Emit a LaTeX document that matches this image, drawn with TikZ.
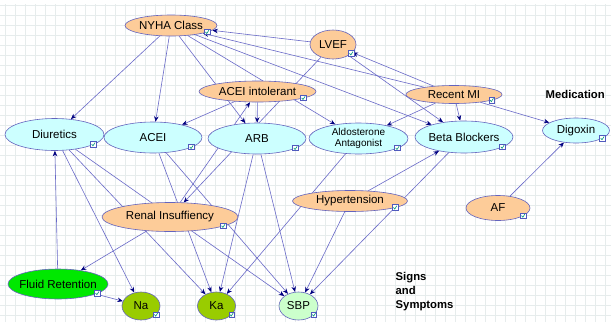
\documentclass[tikz,border=0pt]{standalone}
\usepackage{fontspec}
\setmainfont{Liberation Sans}
\usetikzlibrary{shapes.geometric,arrows.meta,calc}
\pgfdeclarelayer{gridlayer}
\pgfdeclarelayer{edgelayer}
\pgfsetlayers{gridlayer,edgelayer,main}
\definecolor{orangefill}{RGB}{253,204,153}
\definecolor{cyanfill}{RGB}{204,255,255}
\definecolor{brightgreen}{RGB}{0,232,0}
\definecolor{olivefill}{RGB}{153,204,0}
\definecolor{palegreen}{RGB}{204,255,204}
\definecolor{nodeborder}{RGB}{100,100,190}
\definecolor{edgec}{RGB}{105,105,200}
\definecolor{tipc}{RGB}{0,0,128}
\definecolor{gridc}{RGB}{230,236,236}
\definecolor{ckgreen}{RGB}{0,150,120}
\definecolor{ckborder}{RGB}{80,90,190}
\newcommand{\zb}[1]{\makebox[0pt][c]{#1}}
\begin{document}
\begin{tikzpicture}[x=1pt,y=-1pt,
  bn/.style={ellipse, draw=nodeborder, line width=0.6pt, inner sep=0pt, font=\fontsize{11.5}{13}\selectfont},
  orangenode/.style={bn, fill=orangefill},
  cyannode/.style={bn, fill=cyanfill},
  sz/.style 2 args={minimum width=#1pt, minimum height=#2pt},
  link/.style={draw=edgec, line width=0.6pt, -{Stealth[length=5.5pt,width=4.5pt,color=tipc]}},
  ckbox/.style={rectangle, draw=ckborder, fill=white, line width=0.5pt, minimum size=5.5pt, inner sep=0pt,
    path picture={\draw[draw=ckgreen,line width=0.6pt]
      ([xshift=1.1pt,yshift=2.8pt]path picture bounding box.south west) --
      ([xshift=2.4pt,yshift=1.2pt]path picture bounding box.south west) --
      ([xshift=-1pt,yshift=-1pt]path picture bounding box.north east);}},
  labeltext/.style={inner sep=0pt, font=\fontsize{11.3}{14}\selectfont\bfseries, align=left}
]
\useasboundingbox (0,0) rectangle (611,322);
\begin{pgfonlayer}{gridlayer}
  \fill[white] (0,0) rectangle (611,322);
  \foreach \i in {5,15,...,605} \draw[gridc, line width=0.5pt] (\i,4) -- (\i,322);
  \foreach \j in {5,15,...,315} \draw[gridc, line width=0.5pt] (0,\j) -- (611,\j);
\end{pgfonlayer}

\node[orangenode,sz={92}{21}] (nyha) at (171,25.5) {\zb{NYHA Class}};
\node[orangenode,sz={46}{29}] (lvef) at (333,44.5) {\zb{LVEF}};
\node[orangenode,sz={117}{21}] (aceii) at (257.5,91.5) {\zb{ACEI intolerant}};
\node[orangenode,sz={96}{18}] (rmi) at (454,94.5) {\zb{Recent MI}};
\node[cyannode,sz={99}{32}] (diu) at (54.5,134.5) {\zb{Diuretics}};
\node[cyannode,sz={98}{31}] (acei) at (153,137.5) {\zb{ACEI}};
\node[cyannode,sz={98}{31}] (arb) at (257,138.5) {\zb{ARB}};
\node[cyannode,sz={99}{31}] (ald) at (358.5,138.5) {\zb{\fontsize{10}{10.8}\selectfont\begin{tabular}{@{}c@{}}Aldosterone\\Antagonist\end{tabular}}};
\node[cyannode,sz={98}{32}] (bb) at (464,137) {\zb{Beta Blockers}};
\node[cyannode,sz={67}{25}] (dig) at (576,130.5) {\zb{Digoxin}};
\node[orangenode,sz={115}{21}] (hyp) at (350,201) {\zb{Hypertension}};
\node[orangenode,sz={64}{25}] (af) at (498,208) {\zb{AF}};
\node[orangenode,sz={136}{29}] (renal) at (170,217) {\zb{Renal Insuffiency}};
\node[bn,fill=brightgreen,sz={100}{30}] (fluid) at (58,284) {\zb{Fluid Retention}};
\node[bn,fill=olivefill,sz={38}{28}] (na) at (141,306) {\zb{Na}};
\node[bn,fill=olivefill,sz={38}{28}] (ka) at (216.5,306) {\zb{Ka}};
\node[bn,fill=palegreen,sz={39}{28}] (sbp) at (298.5,306) {\zb{SBP}};

\node[labeltext, anchor=west] (medlabel) at (545.5,94.5) {Medication};
\node[labeltext, anchor=west] (signlabel) at (395.5,291.7) {Signs\\and\\Symptoms};

\foreach \nm in {nyha,lvef,aceii,rmi,diu,acei,arb,ald,bb,dig,hyp,af,renal,fluid,na,ka,sbp}
  \path let \p1=(\nm.center), \p2=(\nm.east), \p3=(\nm.north) in
    node[ckbox] (ck-\nm) at (\x1+0.78*\x2-0.78*\x1, \y1-0.6*\y3+0.6*\y1) {};

\begin{pgfonlayer}{edgelayer}
  \draw[link] (lvef) -- (nyha);
  \draw[link] (rmi) -- (nyha);
  \draw[link] (nyha) -- (diu);
  \draw[link] (nyha) -- (acei);
  \draw[link] (nyha) -- (arb);
  \draw[link] (nyha) -- (ald);
  \draw[link] (nyha) -- (bb);
  \draw[link] (rmi) -- (lvef);
  \draw[link] (lvef) -- (bb);
  \draw[link] (lvef) -- (renal);
  \draw[link] (renal) -- (aceii);
  \draw[link] (aceii) -- (acei);
  \draw[link] (aceii) -- (arb);
  \draw[link] (rmi) -- (ald);
  \draw[link] (rmi) -- (bb);
  \draw[link] (rmi) -- (dig);
  \draw[link] (af) -- (dig);
  \draw[link] (hyp) -- (bb);
  \draw[link] (hyp) -- (sbp);
  \draw[link] (bb) -- (sbp);
  \draw[link] (ald) -- (ka);
  \draw[link] (arb) -- (ka);
  \draw[link] (arb) -- (sbp);
  \draw[link] (acei) -- (ka);
  \draw[link] (acei) -- (sbp);
  \draw[link] (diu) -- (na);
  \draw[link] (diu) -- (ka);
  \draw[link] (diu) -- (sbp);
  \draw[link] (renal) -- (fluid);
  \draw[link] (fluid) -- (diu);
  \draw[link] (fluid) -- (na);
\end{pgfonlayer}
\end{tikzpicture}
\end{document}
